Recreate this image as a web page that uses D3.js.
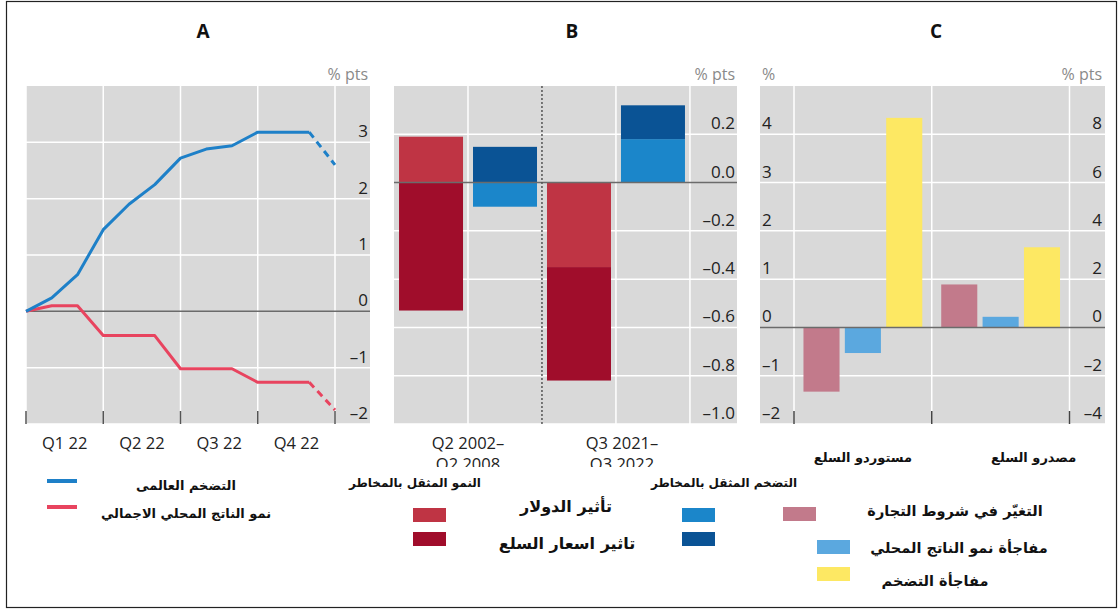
<!DOCTYPE html>
<html><head><meta charset="utf-8">
<script src="https://cdn.jsdelivr.net/npm/d3@7"></script>
<style>body{margin:0;background:#fff} svg{display:block}</style>
</head><body>
<svg id="chart" width="1120" height="611"></svg>
<script>
// ---------- Panel A data ----------
const monthsA = [0,1,2,3,4,5,6,7,8,9,10,11,12];
const inflationA = [0,0.24,0.65,1.45,1.9,2.25,2.72,2.88,2.94,3.18,3.18,3.18,2.6];
const gdpA = [0,0.1,0.1,-0.43,-0.43,-0.43,-1.02,-1.02,-1.02,-1.26,-1.26,-1.26,-1.75];
const lastSolidA = 11;
const quarterTicksA = [0,3,6,9,12];
const quarterLabelsA = ["Q1 22","Q2 22","Q3 22","Q4 22"];
const quarterLabelPosA = [1.5,4.5,7.5,10.5];
const yTicksA = [-2,-1,0,1,2,3];

// ---------- Panel B data ----------
const periodsB = [["Q2 2002–","Q2 2008"],["Q3 2021–","Q3 2022"]];
const barsB = ["p1-growth","p1-inflation","p2-growth","p2-inflation"];
const barKindB = ["growth","inflation","growth","inflation"];
const dollarB = [0.19,-0.10,-0.35,0.18];
const commodityB = [-0.53,0.148,-0.47,0.14];
const yTicksB = [-1.0,-0.8,-0.6,-0.4,-0.2,0,0.2];

// ---------- Panel C data ----------
const groupsC = ["مستوردو السلع","مصدرو السلع"];
const seriesC = ["tot","gdp","infl"];
const totC = [-1.33, 0.89];
const gdpSurpriseC = [-0.53, 0.22];
const inflSurpriseC = [4.34, 1.66];
const yTicksCLeft = [-2,-1,0,1,2,3,4];
const yTicksCRight = [-4,-2,0,2,4,6,8];

// ---------- Legend texts ----------
const legendA = ["التضخم العالمى","نمو الناتج المحلي الاجمالي"];
const legendBHeads = ["النمو المثقل بالمخاطر","التضخم المثقل بالمخاطر"];
const legendBItems = ["تأثير الدولار","تاثير اسعار السلع"];
const legendC = ["التغيّر في شروط التجارة","مفاجأة نمو الناتج المحلي","مفاجأة التضخم"];

// ---------- styles ----------
const GRAY = "#d9d9d9", GRID = "#ffffff", ZERO = "#6b6b6b";
const LATIN = "'Open Sans', 'Liberation Sans', sans-serif";
const ARABIC = "'DejaVu Sans', 'Liberation Sans', sans-serif";
const TICKC = "#222", UNITC = "#8a8a8a";
const colB = {growth:{dollar:"#bf3444",commodity:"#a00d2b"}, inflation:{dollar:"#1b86ca",commodity:"#0a5395"}};
const colC = {tot:"#c27a8b", gdp:"#5ba8df", infl:"#fde863"};
const fmtDash = f => v => f(v).replace("−","–");

const svg = d3.select("#chart");
svg.append("rect").attr("x",0).attr("y",0).attr("width",1120).attr("height",611).attr("fill","#fff");

// titles
[["A",203],["B",572],["C",936]].forEach(([t,x])=>{
  svg.append("text").attr("x",x).attr("y",38).attr("text-anchor","middle")
    .attr("font-family",LATIN).attr("font-weight","bold").attr("font-size",19).attr("fill","#111").text(t);
});

// ================= Panel A =================
{
  const L=26, R=370, T=86, B=424;
  const g = svg.append("g");
  const x = d3.scaleLinear().domain([0,12]).range([26,335]);
  const y = d3.scaleLinear().domain([-2,4]).range([B,T]);
  g.append("rect").attr("x",L).attr("y",T).attr("width",R-L).attr("height",B-T).attr("fill",GRAY);
  g.selectAll(".hg").data(yTicksA.filter(v=>v!==0)).join("line")
    .attr("x1",L).attr("x2",R).attr("y1",d=>y(d)).attr("y2",d=>y(d)).attr("stroke",GRID).attr("stroke-width",1.5);
  g.selectAll(".vg").data(quarterTicksA).join("line")
    .attr("x1",d=>x(d)).attr("x2",d=>x(d)).attr("y1",T).attr("y2",B).attr("stroke",GRID).attr("stroke-width",1.5);
  g.append("line").attr("x1",L).attr("x2",R).attr("y1",y(0)).attr("y2",y(0)).attr("stroke",ZERO).attr("stroke-width",1.5);
  g.selectAll(".tk").data(quarterTicksA).join("line")
    .attr("x1",d=>x(d)).attr("x2",d=>x(d)).attr("y1",B-13).attr("y2",B).attr("stroke","#555").attr("stroke-width",1.5);
  const line = d3.line().x(d=>x(d[0])).y(d=>y(d[1]));
  const drawSeries = (vals,color)=>{
    const pts = monthsA.map((m,i)=>[m,vals[i]]);
    g.append("path").attr("d",line(pts.slice(0,lastSolidA+1))).attr("fill","none")
      .attr("stroke",color).attr("stroke-width",3).attr("stroke-linejoin","round");
    g.append("path").attr("d",line(pts.slice(lastSolidA))).attr("fill","none")
      .attr("stroke",color).attr("stroke-width",3).attr("stroke-dasharray","7,5");
  };
  drawSeries(gdpA,"#e8445f");
  drawSeries(inflationA,"#1e80c8");
  const f = fmtDash(d3.format("d"));
  g.selectAll(".yl").data(yTicksA).join("text")
    .attr("x",368).attr("y",d=>y(d)-5).attr("text-anchor","end")
    .attr("font-family",LATIN).attr("font-size",17).attr("fill",TICKC).text(f);
  g.append("text").attr("x",368).attr("y",80).attr("text-anchor","end")
    .attr("font-family",LATIN).attr("font-size",16).attr("fill",UNITC).text("% pts");
  g.selectAll(".xl").data(quarterLabelsA).join("text")
    .attr("x",(d,i)=>x(quarterLabelPosA[i])).attr("y",449).attr("text-anchor","middle")
    .attr("font-family",LATIN).attr("font-size",16.5).attr("fill",TICKC).text(d=>d);
}

// ================= Panel B =================
{
  const L=394, R=737, T=86, B=424;
  const g = svg.append("g");
  const x = d3.scaleBand().domain(barsB).range([394,690]).paddingInner(0.135).paddingOuter(0.068);
  const y = d3.scaleLinear().domain([-1.0,0.4]).range([B,T]);
  g.append("rect").attr("x",L).attr("y",T).attr("width",R-L).attr("height",B-T).attr("fill",GRAY);
  g.selectAll(".hg").data(yTicksB.filter(v=>v!==0)).join("line")
    .attr("x1",L).attr("x2",R).attr("y1",d=>y(d)).attr("y2",d=>y(d)).attr("stroke",GRID).attr("stroke-width",1.5);
  const step = x.step();
  const boundaries = [1,2,3,4].map(k=>({k, pos: 394 + k*step}));
  g.selectAll(".vg").data(boundaries.filter(d=>d.k!==2)).join("line")
    .attr("x1",d=>d.pos).attr("x2",d=>d.pos).attr("y1",T).attr("y2",B).attr("stroke",GRID).attr("stroke-width",1.5);
  const rows = barsB.map((b,i)=>({bar:b, kind:barKindB[i], dollar:dollarB[i], commodity:commodityB[i]}));
  const stack = d3.stack().keys(["dollar","commodity"]).offset(d3.stackOffsetDiverging)(rows);
  stack.forEach(layer=>{
    g.selectAll(null).data(layer).join("rect")
      .attr("x",d=>x(d.data.bar)).attr("width",x.bandwidth())
      .attr("y",d=>y(Math.max(d[0],d[1]))).attr("height",d=>Math.abs(y(d[0])-y(d[1])))
      .attr("fill",d=>colB[d.data.kind][layer.key]);
  });
  g.append("line").attr("x1",L).attr("x2",R).attr("y1",y(0)).attr("y2",y(0)).attr("stroke",ZERO).attr("stroke-width",1.5);
  const sep = boundaries.find(d=>d.k===2).pos;
  g.append("line").attr("x1",sep).attr("x2",sep).attr("y1",T).attr("y2",B)
    .attr("stroke","#555").attr("stroke-width",1.5).attr("stroke-dasharray","2,2");
  const f = fmtDash(d3.format(".1f"));
  g.selectAll(".yl").data(yTicksB).join("text")
    .attr("x",735).attr("y",d=>y(d)-5).attr("text-anchor","end")
    .attr("font-family",LATIN).attr("font-size",17).attr("fill",TICKC).text(f);
  g.append("text").attr("x",735).attr("y",80).attr("text-anchor","end")
    .attr("font-family",LATIN).attr("font-size",16).attr("fill",UNITC).text("% pts");
  svg.append("clipPath").attr("id","clipB").append("rect").attr("x",380).attr("y",420).attr("width",380).attr("height",47);
  const lab = g.append("g").attr("clip-path","url(#clipB)");
  periodsB.forEach((lines,i)=>{
    const b0 = barsB[i*2], b1 = barsB[i*2+1];
    const cx = (x(b0) + x(b1) + x.bandwidth())/2 + (i===1?6:0);
    lines.forEach((t,j)=>{
      lab.append("text").attr("x",cx).attr("y",449 + j*21).attr("text-anchor","middle")
        .attr("font-family",LATIN).attr("font-size",16.5).attr("fill",TICKC).text(t);
    });
  });
}

// ================= Panel C =================
{
  const L=760, R=1105, T=86, B=424;
  const g = svg.append("g");
  const xg = d3.scaleBand().domain(groupsC).range([794,1069.5]);
  const xs = d3.scaleBand().domain(seriesC).range([0,xg.bandwidth()]).paddingInner(0.128).paddingOuter(0.229);
  const yL = d3.scaleLinear().domain([-2,5]).range([B,T]);
  const yR = d3.scaleLinear().domain([-4,10]).range([B,T]);
  g.append("rect").attr("x",L).attr("y",T).attr("width",R-L).attr("height",B-T).attr("fill",GRAY);
  g.selectAll(".hg").data(yTicksCLeft.filter(v=>v!==0)).join("line")
    .attr("x1",L).attr("x2",R).attr("y1",d=>yL(d)).attr("y2",d=>yL(d)).attr("stroke",GRID).attr("stroke-width",1.5);
  const vb = [...groupsC.map(d=>xg(d)), xg(groupsC[1])+xg.bandwidth()];
  g.selectAll(".vg").data(vb).join("line")
    .attr("x1",d=>d).attr("x2",d=>d).attr("y1",T).attr("y2",B).attr("stroke",GRID).attr("stroke-width",1.5);
  const rows = groupsC.map((gname,i)=>({group:gname, tot:totC[i], gdp:gdpSurpriseC[i], infl:inflSurpriseC[i]}));
  rows.forEach(r=>{
    seriesC.forEach(s=>{
      const v = r[s];
      g.append("rect").attr("x",xg(r.group)+xs(s)).attr("width",xs.bandwidth())
        .attr("y",yL(Math.max(0,v))).attr("height",Math.abs(yL(v)-yL(0))).attr("fill",colC[s]);
    });
  });
  g.append("line").attr("x1",L).attr("x2",R).attr("y1",yL(0)).attr("y2",yL(0)).attr("stroke",ZERO).attr("stroke-width",1.5);
  g.selectAll(".tk").data(vb).join("line")
    .attr("x1",d=>d).attr("x2",d=>d).attr("y1",B-13).attr("y2",B).attr("stroke","#444").attr("stroke-width",1.5);
  const f = fmtDash(d3.format("d"));
  g.selectAll(".yl").data(yTicksCLeft).join("text")
    .attr("x",762).attr("y",d=>yL(d)-5).attr("text-anchor","start")
    .attr("font-family",LATIN).attr("font-size",17).attr("fill",TICKC).text(f);
  g.selectAll(".yr").data(yTicksCRight).join("text")
    .attr("x",1102).attr("y",d=>yR(d)-5).attr("text-anchor","end")
    .attr("font-family",LATIN).attr("font-size",17).attr("fill",TICKC).text(f);
  g.append("text").attr("x",762).attr("y",80).attr("text-anchor","start")
    .attr("font-family",LATIN).attr("font-size",16).attr("fill",UNITC).text("%");
  g.append("text").attr("x",1102).attr("y",80).attr("text-anchor","end")
    .attr("font-family",LATIN).attr("font-size",16).attr("fill",UNITC).text("% pts");
  const labelShift = [0,33];
  g.selectAll(".xl").data(groupsC).join("text")
    .attr("x",(d,i)=>xg(d)+xg.bandwidth()/2+labelShift[i]).attr("y",462).attr("text-anchor","middle")
    .attr("font-family",ARABIC).attr("font-weight","bold").attr("font-size",13).attr("fill","#111").text(d=>d);
}

// ================= Legends =================
{
  const g = svg.append("g");
  const lc = ["#1e80c8","#e8445f"];
  [481,507].forEach((yy,i)=>{
    g.append("line").attr("x1",47).attr("x2",77).attr("y1",yy).attr("y2",yy).attr("stroke",lc[i]).attr("stroke-width",4);
  });
  [490,518].forEach((yy,i)=>{
    g.append("text").attr("x",186).attr("y",yy).attr("text-anchor","middle")
      .attr("font-family",ARABIC).attr("font-weight","bold").attr("font-size",13).attr("fill","#111").text(legendA[i]);
  });
  // Panel B legend
  [[415,legendBHeads[0]],[724,legendBHeads[1]]].forEach(([xx,t])=>{
    g.append("text").attr("x",xx).attr("y",487).attr("text-anchor","middle")
      .attr("font-family",ARABIC).attr("font-weight","bold").attr("font-size",12).attr("fill","#111").text(t);
  });
  const swB = [[413,508,colB.growth.dollar],[413,532,colB.growth.commodity],[682,508,colB.inflation.dollar],[682,532,colB.inflation.commodity]];
  swB.forEach(([xx,yy,c])=>g.append("rect").attr("x",xx).attr("y",yy).attr("width",33).attr("height",14).attr("fill",c));
  [[566,512],[567,549]].forEach(([xx,yy],i)=>{
    g.append("text").attr("x",xx).attr("y",yy).attr("text-anchor","middle")
      .attr("font-family",ARABIC).attr("font-weight","bold").attr("font-size",16).attr("fill","#111").text(legendBItems[i]);
  });
  // Panel C legend
  const swC = [[783,507,colC.tot],[817,540,colC.gdp],[817,567,colC.infl]];
  swC.forEach(([xx,yy,c])=>g.append("rect").attr("x",xx).attr("y",yy).attr("width",33).attr("height",14).attr("fill",c));
  [[955,516],[959,553],[935,586]].forEach(([xx,yy],i)=>{
    g.append("text").attr("x",xx).attr("y",yy).attr("text-anchor","middle")
      .attr("font-family",ARABIC).attr("font-weight","bold").attr("font-size",14.5).attr("fill","#111").text(legendC[i]);
  });
}

// outer frame
svg.append("rect").attr("x",6.5).attr("y",1.5).attr("width",1110).attr("height",606)
  .attr("fill","none").attr("stroke","#222").attr("stroke-width",1.2);
</script>
</body></html>
